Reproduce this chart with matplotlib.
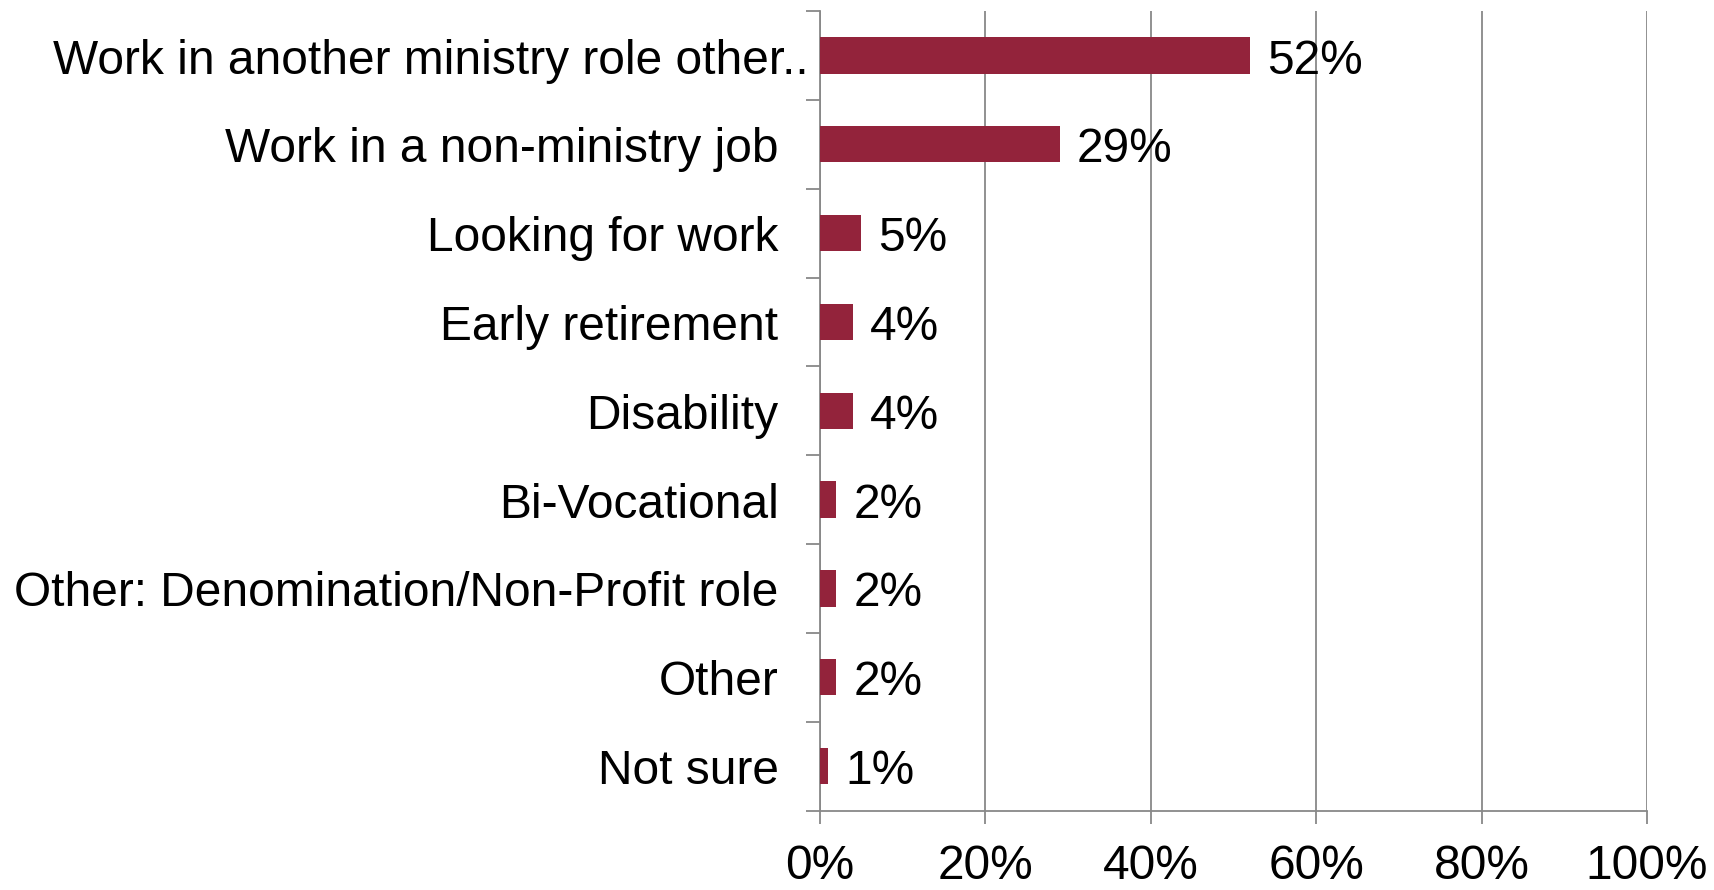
import matplotlib
matplotlib.use("Agg")
import matplotlib.pyplot as plt
import numpy as np

plt.rcParams['font.family'] = ['Liberation Sans', 'DejaVu Sans']

categories = [
    "Work in another ministry role other..",
    "Work in a non-ministry job",
    "Looking for work",
    "Early retirement",
    "Disability",
    "Bi-Vocational",
    "Other: Denomination/Non-Profit role",
    "Other",
    "Not sure",
]
percent = [52, 29, 5, 4, 4, 2, 2, 2, 1]
x_ticks = [0, 20, 40, 60, 80, 100]

bar_color = "#93233B"
axis_gray = "#888888"
fs = 34.5

fig = plt.figure(figsize=(17.15, 8.9), dpi=100)
ax = fig.add_axes([0.4781, 0.0893, 0.9604 - 0.4781, 0.9876 - 0.0893])

y = np.arange(len(categories))
ax.barh(y, percent, height=0.41, color=bar_color, zorder=3)

ax.set_xlim(0, 100)
ax.set_ylim(len(categories) - 0.5, -0.5)

# x axis: percent labels, vertical gridlines
ax.set_xticks(x_ticks)
ax.set_xticklabels([f"{t}%" for t in x_ticks], fontsize=fs)
ax.tick_params(axis='x', direction='out', length=9, width=1.3,
               color=axis_gray, pad=15)
ax.xaxis.grid(True, color=axis_gray, linewidth=1.3, zorder=0)

# y axis: ticks sit between categories, labels drawn as text
ax.set_yticks(np.arange(len(categories) + 1) - 0.5)
ax.set_yticklabels([])
ax.tick_params(axis='y', direction='out', length=10, width=1.3, color=axis_gray)

for side in ['top', 'right']:
    ax.spines[side].set_visible(False)
for side in ['left', 'bottom']:
    ax.spines[side].set_color(axis_gray)
    ax.spines[side].set_linewidth(1.3)

trans = ax.get_yaxis_transform()
for i, name in enumerate(categories):
    # the truncated first label runs closer to the axis
    off = -0.014 if name.endswith("..") else -0.05
    ax.annotate(name, xy=(off, i), xycoords=trans, xytext=(0, -4),
                textcoords='offset points', ha='right', va='center',
                fontsize=fs, color='black')

for i, v in enumerate(percent):
    ax.annotate(f"{v}%", xy=(v, i), xytext=(12, -4), textcoords='offset points',
                ha='left', va='center', fontsize=fs, color='black', zorder=4)

fig.savefig("out.png", dpi=100)
